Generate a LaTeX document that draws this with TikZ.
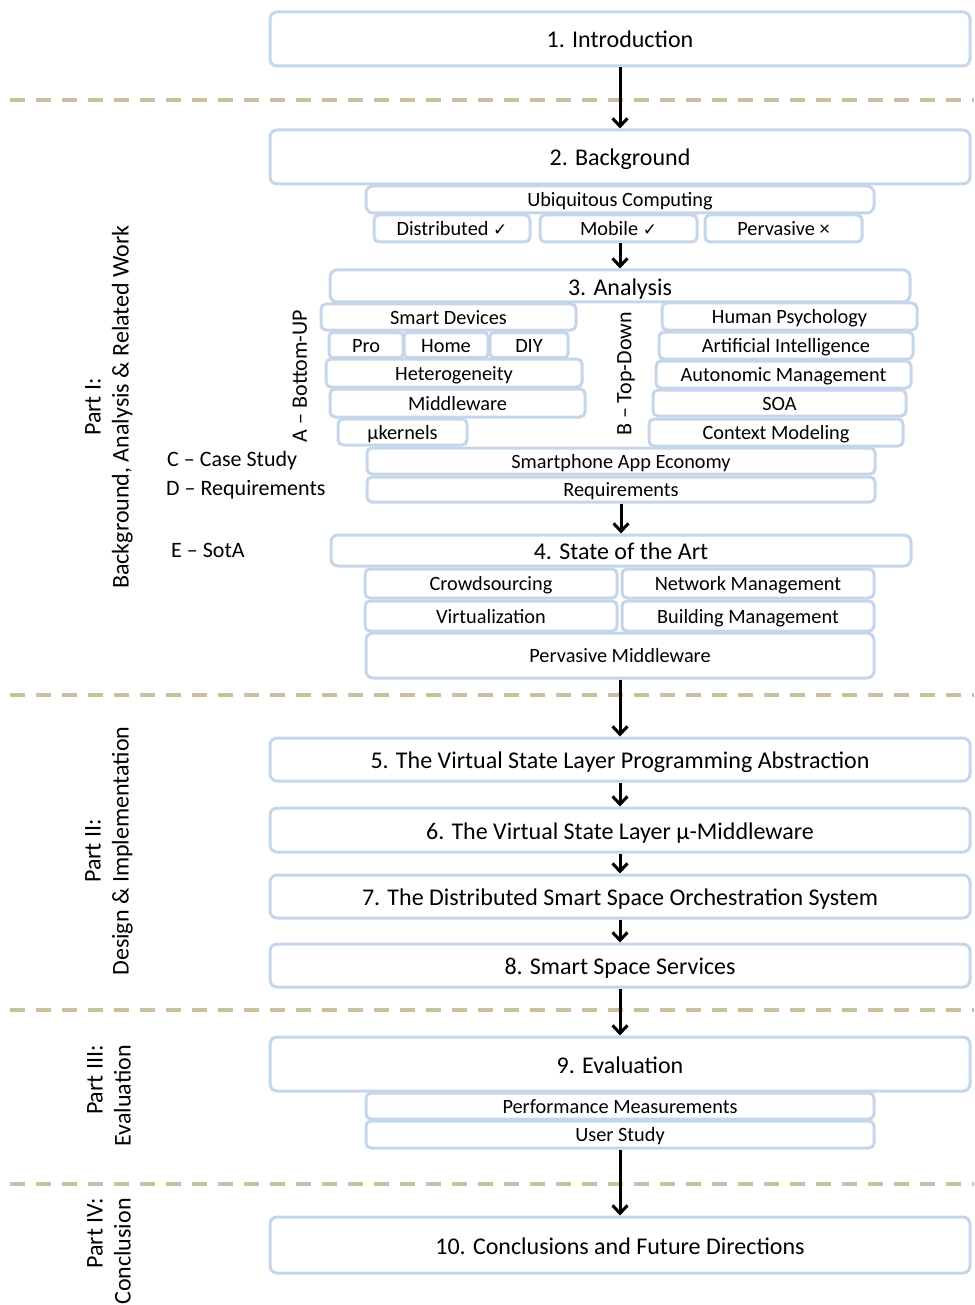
\documentclass[tikz,border=0pt]{standalone}
\usepackage{fontspec}
\setmainfont{Carlito}
\newfontfamily\djv{DejaVu Sans}
\usetikzlibrary{arrows.meta}
\definecolor{bord}{HTML}{C6D6EA}
\definecolor{sepcol}{HTML}{C8C09E}
\tikzset{
  bx/.style={draw=bord, line width=3pt, fill=white, rounded corners=7pt, inner sep=0pt, text=black},
  big/.style={font=\fontsize{24}{28}\selectfont, text height=23pt, text depth=5pt},
  sml/.style={font=\fontsize{20.3}{24}\selectfont, text height=19pt, text depth=5pt},
  lbl/.style={font=\fontsize{22}{26}\selectfont, inner sep=0pt},
  part/.style={font=\fontsize{24}{28}\selectfont, rotate=90, inner sep=0pt},
  arr/.style={line width=3pt, -{Straight Barb[length=8pt,width=15pt]}},
  sep/.style={draw=sepcol, line width=4.5pt, dash pattern=on 15pt off 11pt},
  sz/.style 2 args={minimum width=#1pt, minimum height=#2pt}
}
\newcommand{\ck}{{\djv\fontsize{17}{18}\selectfont ✓}}
\begin{document}
\begin{tikzpicture}[x=1pt,y=1pt]
\useasboundingbox (0,0) rectangle (974,-1305);
% separators
\coordinate (s1a) at (10,-100); \coordinate (s1b) at (974,-100);
\coordinate (s2a) at (10,-695); \coordinate (s2b) at (974,-695);
\coordinate (s3a) at (10,-1010); \coordinate (s3b) at (974,-1010);
\coordinate (s4a) at (10,-1184); \coordinate (s4b) at (974,-1184);
\draw[sep] (s1a) -- (s1b);
\draw[sep] (s2a) -- (s2b);
\draw[sep] (s3a) -- (s3b);
\draw[sep] (s4a) -- (s4b);
% chapter boxes
\node[bx,big,sz={700}{54}] (intro) at (620,-39) {1. Introduction};
\node[bx,big,sz={700}{54}] (bg) at (620,-157) {2. Background};
\node[bx,sml,sz={508}{27}] (ubi) at (620,-199.5) {Ubiquitous Computing};
\node[bx,sml,sz={156}{27},rounded corners=5pt] (dist) at (452,-228.5) {Distributed \ck};
\node[bx,sml,sz={157}{27},rounded corners=5pt] (mob) at (618.5,-228.5) {Mobile \ck};
\node[bx,sml,sz={157}{27},rounded corners=5pt] (perv) at (783.5,-228.5) {Pervasive ×};
\node[bx,big,sz={580}{32}] (ana) at (620,-286) {3. Analysis};
% bottom-up column
\node[bx,sml,sz={255}{26},rounded corners=5pt] (sd) at (448.5,-317) {Smart Devices};
\node[bx,sml,sz={74}{25},rounded corners=4pt] (pro) at (366,-345) {Pro};
\node[bx,sml,sz={84}{25},rounded corners=4pt] (home) at (446,-345) {Home};
\node[bx,sml,sz={78}{25},rounded corners=4pt] (diy) at (529,-345) {DIY};
\node[bx,sml,sz={256}{28},rounded corners=5pt] (het) at (454,-373) {Heterogeneity};
\node[bx,sml,sz={255}{28},rounded corners=5pt] (mw) at (457.5,-403) {Middleware};
\node[bx,sml,sz={129}{26},rounded corners=5pt] (muk) at (402.5,-432) {µkernels};
% top-down column
\node[bx,sml,sz={255}{27},rounded corners=5pt] (hp) at (789.5,-316.5) {Human Psychology};
\node[bx,sml,sz={254}{27},rounded corners=5pt] (ai) at (786,-345.5) {Artificial Intelligence};
\node[bx,sml,sz={255}{27},rounded corners=5pt] (am) at (783.5,-374.5) {Autonomic Management};
\node[bx,sml,sz={253}{26},rounded corners=5pt] (soa) at (779.5,-403) {SOA};
\node[bx,sml,sz={254}{27},rounded corners=5pt] (cm) at (776,-432.5) {Context Modeling};
\node[bx,sml,sz={508}{26},rounded corners=5pt] (sae) at (621,-461) {Smartphone App Economy};
\node[bx,sml,sz={508}{25},rounded corners=5pt] (req) at (621,-489.5) {Requirements};
% side labels
\node[lbl,rotate=90] (bu) at (300,-376) {A – Bottom-UP};
\node[lbl,rotate=90] (td) at (626,-374) {B – Top-Down};
\node[lbl,anchor=west] (lc) at (167,-461) {C – Case Study};
\node[lbl,anchor=west] (ld) at (166,-490) {D – Requirements};
\node[lbl,anchor=west] (le) at (171,-550) {E – SotA};
% state of the art
\node[bx,big,sz={580}{31}] (sota) at (621,-550.5) {4. State of the Art};
\node[bx,sml,sz={252}{29},rounded corners=5pt] (crowd) at (491,-583.5) {Crowdsourcing};
\node[bx,sml,sz={252}{29},rounded corners=5pt] (nm) at (748,-583.5) {Network Management};
\node[bx,sml,sz={252}{30},rounded corners=5pt] (virt) at (491,-616) {Virtualization};
\node[bx,sml,sz={252}{30},rounded corners=5pt] (bm) at (748,-616) {Building Management};
\node[bx,sml,sz={508}{45}] (pm) at (620,-655.5) {Pervasive Middleware};
% part II
\node[bx,big,sz={700}{43}] (c5) at (620,-759.5) {5. The Virtual State Layer Programming Abstraction};
\node[bx,big,sz={700}{44}] (c6) at (620,-830) {6. The Virtual State Layer µ-Middleware};
\node[bx,big,sz={700}{43}] (c7) at (620,-896.5) {7. The Distributed Smart Space Orchestration System};
\node[bx,big,sz={700}{43}] (c8) at (620,-965.5) {8. Smart Space Services};
% part III
\node[bx,big,sz={700}{54}] (c9) at (620,-1064) {9. Evaluation};
\node[bx,sml,sz={508}{26},rounded corners=5pt] (perf) at (620,-1106) {Performance Measurements};
\node[bx,sml,sz={508}{27},rounded corners=5pt] (us) at (620,-1134.5) {User Study};
% part IV
\node[bx,big,sz={700}{56}] (c10) at (620,-1245) {10. Conclusions and Future Directions};
% part labels
\node[part,align=center] (p1) at (109,-407) {Part I:\\Background, Analysis \& Related Work};
\node[part,align=center] (p2) at (109,-851) {Part II:\\Design \& Implementation};
\node[part,align=right,anchor=east] (p3) at (109,-1045) {Part III:\\Evaluation};
\node[part,align=right,anchor=east] (p4) at (109,-1198) {Part IV:\\Conclusion};
% arrows
\draw[arr] (intro.south) -- (bg.north);
\draw[arr] (mob.south -| ana.north) -- (ana.north);
\draw[arr] (req.south) -- (sota.north);
\draw[arr] (pm.south) -- (c5.north);
\draw[arr] (c5.south) -- (c6.north);
\draw[arr] (c6.south) -- (c7.north);
\draw[arr] (c7.south) -- (c8.north);
\draw[arr] (c8.south) -- (c9.north);
\draw[arr] (us.south) -- (c10.north);
\end{tikzpicture}
\end{document}
